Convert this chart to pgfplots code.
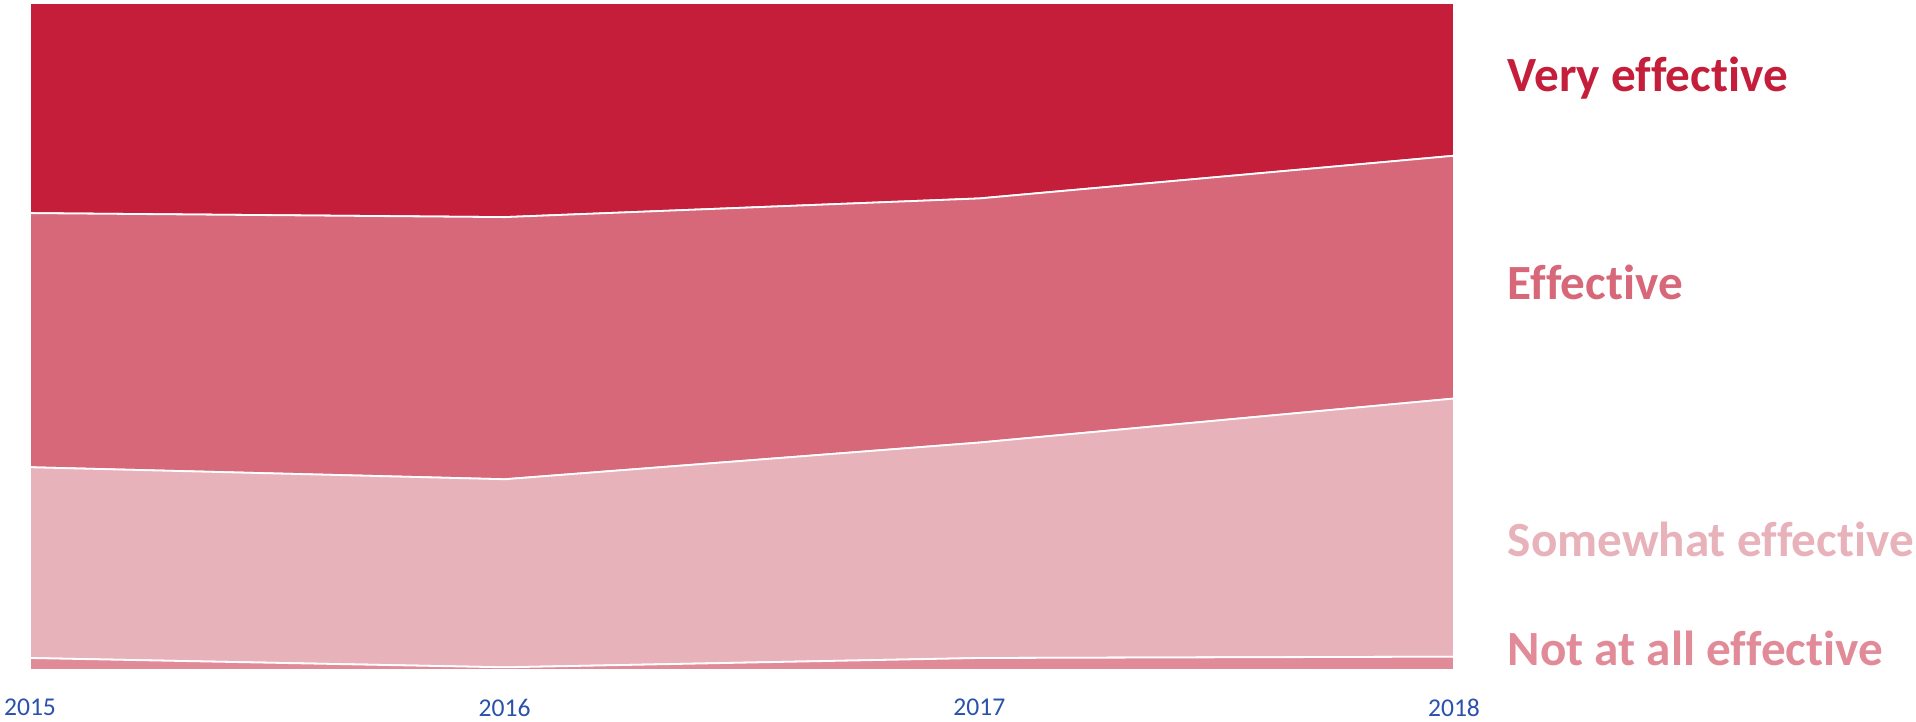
\documentclass[border=0pt]{standalone}
\usepackage{pgfplots}
\pgfplotsset{compat=1.18}
\usepackage{fontspec}
\setmainfont{Carlito}[Ligatures=NoCommon]
\definecolor{veryeff}{RGB}{196,30,58}
\definecolor{effcol}{RGB}{214,104,121}
\definecolor{someeff}{RGB}{232,178,187}
\definecolor{notall}{RGB}{225,139,153}
\definecolor{tickblue}{RGB}{42,82,170}
\tikzset{seriestag/.style={anchor=west, inner sep=0pt, xshift=13.25pt, font=\fontsize{12.3}{12}\selectfont\bfseries}}

\begin{document}
\begin{tikzpicture}
\begin{axis}[
  scale only axis, width=356pt, height=166.75pt,
  xmin=2015, xmax=2018, ymin=0, ymax=100,
  enlargelimits=false, clip=false,
  stack plots=y,
  axis line style={draw=none},
  ytick=\empty, xtick={2015,2016,2017,2018},
  major tick length=0pt,
  /pgf/number format/1000 sep={},
  /pgf/number format/assume math mode=true,
  xticklabel style={anchor=north, yshift=-3.8pt, text=tickblue, font=\fontsize{6.4}{7}\selectfont},
]
% bottom to top: not at all, somewhat, effective, very effective
\addplot[fill=notall, draw=white, line width=0.45pt] coordinates {(2015,1.8) (2016,0.4) (2017,1.8) (2018,2.0)} \closedcycle;
\addplot[fill=someeff, draw=white, line width=0.45pt] coordinates {(2015,28.6) (2016,28.2) (2017,32.3) (2018,38.7)} \closedcycle;
\addplot[fill=effcol, draw=white, line width=0.45pt] coordinates {(2015,38.1) (2016,39.3) (2017,36.6) (2018,36.4)} \closedcycle;
\addplot[fill=veryeff, draw=white, line width=0.45pt] coordinates {(2015,31.5) (2016,32.1) (2017,29.3) (2018,22.9)} \closedcycle;

\node[seriestag, text=veryeff] at (axis cs:2018,88.7) {Very effective};
\node[seriestag, text=effcol] at (axis cs:2018,58.1) {Effective};
\node[seriestag, text=someeff] at (axis cs:2018,19.6) {Somewhat effective};
\node[seriestag, text=notall] at (axis cs:2018,3.2) {Not at all effective};
\end{axis}
\pgfresetboundingbox
\path[use as bounding box] (-7.5pt,-12.75pt) rectangle (471.5pt,167.5pt);
\end{tikzpicture}
\end{document}
